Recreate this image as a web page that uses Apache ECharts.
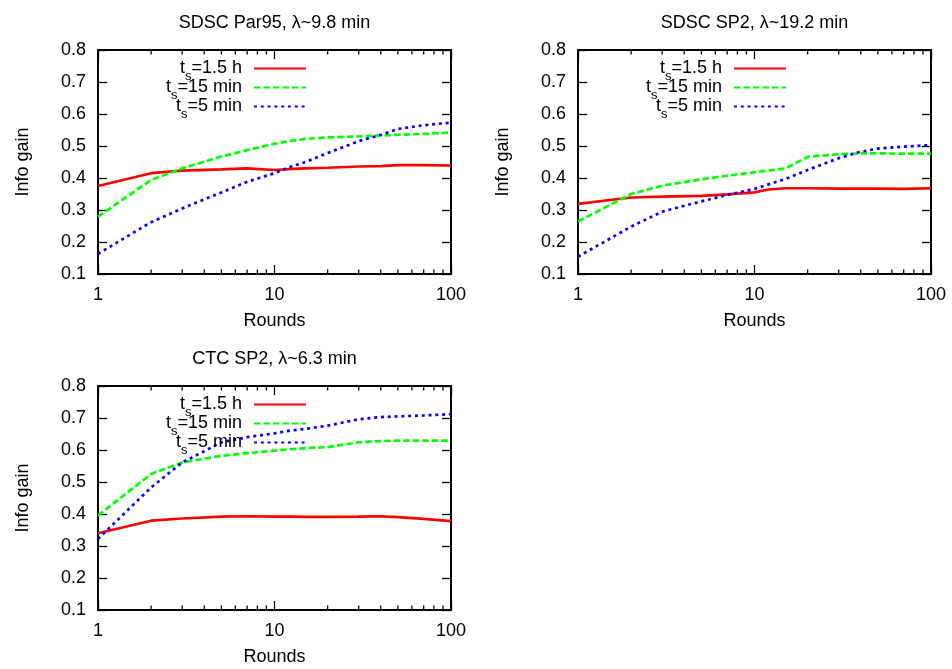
<!DOCTYPE html>
<html>
<head>
<meta charset="utf-8">
<title>Info gain vs rounds</title>
<script src="https://cdn.jsdelivr.net/npm/echarts@6/dist/echarts.min.js"></script>
<style>
  html, body { margin: 0; padding: 0; background: #fff; }
  #main { width: 952px; height: 669px; }
</style>
</head>
<body>
<div id="main"></div>
<script>
var FONT = '"Liberation Sans", Arial, sans-serif';

// x values shared by every curve
var rounds = [1, 2, 3, 5, 7, 10, 12, 15, 20, 30, 40, 50, 70, 100];
var minorTicks = [2, 3, 4, 5, 6, 7, 8, 9, 20, 30, 40, 50, 60, 70, 80, 90];

var titles = ['SDSC Par95, λ~9.8 min', 'SDSC SP2, λ~19.2 min', 'CTC SP2, λ~6.3 min'];
var seriesNames = ['ts=1.5 h', 'ts=15 min', 'ts=5 min'];

// SDSC Par95
var par95_1h = [0.375, 0.415, 0.423, 0.427, 0.430, 0.425, 0.428, 0.430, 0.432, 0.436, 0.437, 0.440, 0.440, 0.439];
var par95_15m = [0.279, 0.394, 0.430, 0.467, 0.487, 0.507, 0.515, 0.522, 0.527, 0.530, 0.533, 0.535, 0.538, 0.542];
var par95_5m = [0.163, 0.262, 0.305, 0.355, 0.388, 0.415, 0.433, 0.450, 0.478, 0.515, 0.535, 0.553, 0.565, 0.573];

// SDSC SP2
var sp2_1h = [0.319, 0.339, 0.342, 0.344, 0.349, 0.355, 0.364, 0.368, 0.368, 0.367, 0.367, 0.367, 0.366, 0.368];
var sp2_15m = [0.264, 0.350, 0.376, 0.396, 0.407, 0.418, 0.423, 0.430, 0.466, 0.474, 0.477, 0.477, 0.476, 0.476];
var sp2_5m = [0.154, 0.248, 0.295, 0.327, 0.347, 0.366, 0.380, 0.397, 0.425, 0.462, 0.482, 0.492, 0.498, 0.503];

// CTC SP2
var ctc_1h = [0.340, 0.379, 0.386, 0.392, 0.393, 0.392, 0.392, 0.391, 0.391, 0.392, 0.393, 0.390, 0.385, 0.378];
var ctc_15m = [0.395, 0.525, 0.561, 0.582, 0.590, 0.598, 0.602, 0.606, 0.609, 0.624, 0.628, 0.629, 0.629, 0.629];
var ctc_5m = [0.322, 0.483, 0.561, 0.624, 0.640, 0.652, 0.660, 0.666, 0.676, 0.696, 0.703, 0.705, 0.708, 0.712];

var panels = [
    [par95_1h, par95_15m, par95_5m],
    [sp2_1h, sp2_15m, sp2_5m],
    [ctc_1h, ctc_15m, ctc_5m]
];

var yMin = 0.1, yMax = 0.8;

// layout
var grids = [
    { left: 98, top: 50 },
    { left: 578, top: 50 },
    { left: 98, top: 386 }
];
var gridW = 353, gridH = 224;
var titleTops = [14, 14, 350];
var legendTops = [54, 54, 390];

var colors = ['#ff0000', '#00ff00', '#0000ff'];
var dashes = ['solid', [6.5, 3], [3, 3.8]];

var chart = echarts.init(document.getElementById('main'));

var xAxes = [], yAxes = [], series = [], legends = [];

grids.forEach(function (g, gi) {
    [false, true].forEach(function (isTop) {
        xAxes.push({
            type: 'log', logBase: 10, min: 1, max: 100, gridIndex: gi,
            position: isTop ? 'top' : 'bottom',
            name: isTop ? '' : 'Rounds',
            nameLocation: 'middle', nameGap: 38,
            nameTextStyle: { color: '#000', fontSize: 18, fontFamily: FONT },
            axisLine: { show: false },
            axisTick: { show: true, inside: true, length: 9, lineStyle: { color: '#000', width: 1.3 } },
            axisLabel: { show: !isTop, color: '#000', fontSize: 18, fontFamily: FONT, margin: 12 },
            splitLine: { show: false },
            minorTick: { show: false }
        });
        yAxes.push({
            type: 'value', min: yMin, max: yMax, interval: 0.1, gridIndex: gi,
            position: isTop ? 'right' : 'left',
            name: isTop ? '' : 'Info gain',
            nameLocation: 'middle', nameGap: 66,
            nameTextStyle: { color: '#000', fontSize: 18, fontFamily: FONT },
            axisLine: { show: false },
            axisTick: { show: true, inside: true, length: 9, lineStyle: { color: '#000', width: 1.3 } },
            axisLabel: {
                show: !isTop, color: '#000', fontSize: 18, fontFamily: FONT, margin: 12,
                formatter: function (v) { return v.toFixed(1); }
            },
            splitLine: { show: false }
        });
    });

    panels[gi].forEach(function (values, si) {
        series.push({
            type: 'line',
            name: seriesNames[si],
            xAxisIndex: gi * 2,
            yAxisIndex: gi * 2,
            data: rounds.map(function (r, i) { return [r, values[i]]; }),
            symbol: 'none',
            lineStyle: { color: colors[si], width: 2.7, type: dashes[si] },
            itemStyle: { color: colors[si] },
            z: 3
        });
    });

    // gnuplot-style minor ticks at 2..9, 20..90 on bottom and top edges
    series.push({
        type: 'custom',
        xAxisIndex: gi * 2,
        yAxisIndex: gi * 2,
        data: minorTicks.map(function (v) { return [v, yMin]; }),
        silent: true,
        renderItem: function (params, api) {
            var x = api.value(0);
            var b = api.coord([x, yMin]);
            var t = api.coord([x, yMax]);
            var st = { stroke: '#000', lineWidth: 1.3 };
            return {
                type: 'group',
                children: [
                    { type: 'line', shape: { x1: b[0], y1: b[1], x2: b[0], y2: b[1] - 4.5 }, style: st },
                    { type: 'line', shape: { x1: t[0], y1: t[1], x2: t[0], y2: t[1] + 4.5 }, style: st }
                ]
            };
        }
    });

    legends.push({
        data: seriesNames,
        orient: 'vertical',
        align: 'right',
        right: 952 - (g.left + 209),
        top: legendTops[gi],
        padding: 0,
        itemWidth: 52,
        itemHeight: 12,
        itemGap: -10,
        selectedMode: false,
        itemStyle: { opacity: 0 },
        formatter: function (name) {
            return '{m|t}{s|s}{m|' + name.slice(2) + '}';
        },
        textStyle: {
            color: '#000', fontSize: 18, fontFamily: FONT, padding: [0, 7, 0, 0],
            rich: {
                m: { color: '#000', fontSize: 18, lineHeight: 18, fontFamily: FONT },
                s: { color: '#000', fontSize: 13, lineHeight: 18, fontFamily: FONT, padding: [16, 0, 0, 0] }
            }
        }
    });
});

var option = {
    animation: false,
    backgroundColor: '#fff',
    title: titles.map(function (t, i) {
        return {
            text: t,
            left: grids[i].left + gridW / 2,
            top: titleTops[i],
            textAlign: 'center',
            padding: 0,
            textStyle: { color: '#000', fontSize: 18, fontWeight: 'normal', fontFamily: FONT }
        };
    }),
    legend: legends,
    grid: grids.map(function (g) {
        return {
            left: g.left, top: g.top, width: gridW, height: gridH,
            show: true, borderColor: '#000', borderWidth: 2,
            backgroundColor: 'transparent',
            outerBoundsMode: 'none'
        };
    }),
    xAxis: xAxes,
    yAxis: yAxes,
    series: series
};

chart.setOption(option);
</script>
</body>
</html>
